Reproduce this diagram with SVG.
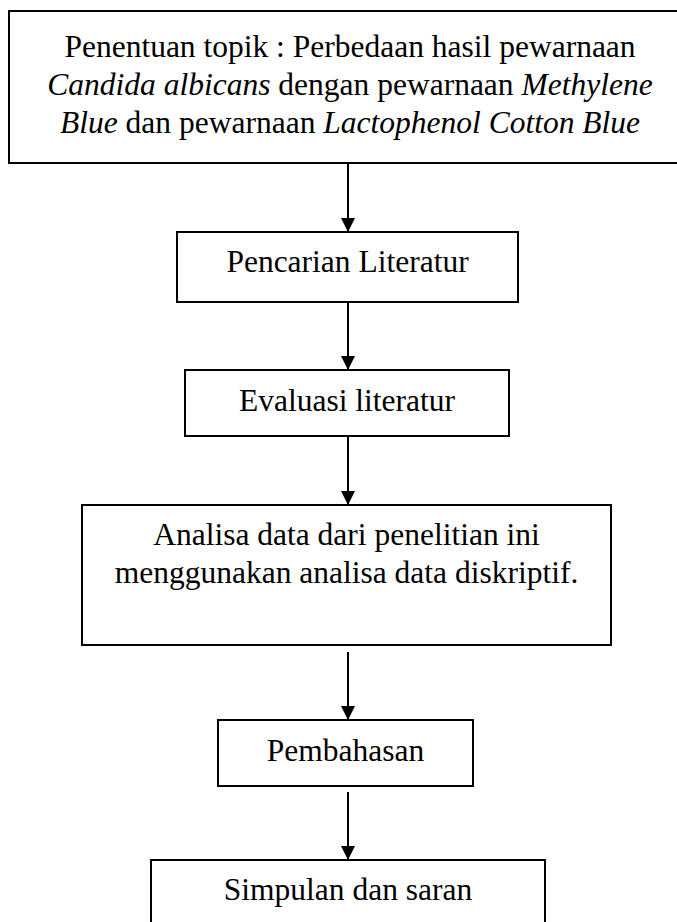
<svg xmlns="http://www.w3.org/2000/svg" width="677" height="922" viewBox="0 0 677 922">
<style>
.box{fill:#fff;stroke:#000;stroke-width:2}
.t{font-family:"Liberation Serif","Times New Roman",serif;font-size:31.5px;fill:#000;text-anchor:middle}
.i{font-style:italic}
.c{stroke:#000;stroke-width:2;fill:none}
</style>
<defs>
<marker id="ah" viewBox="0 0 14 14" refX="14" refY="7" markerWidth="14" markerHeight="14" markerUnits="userSpaceOnUse" orient="auto">
<path d="M0,0 L14,7 L0,14 Z" fill="#000"/>
</marker>
</defs>
<rect width="677" height="922" fill="#fff"/>
<g id="connectors">
<line class="c" x1="348" y1="163" x2="348" y2="232" marker-end="url(#ah)"/>
<line class="c" x1="348" y1="302" x2="348" y2="370" marker-end="url(#ah)"/>
<line class="c" x1="348" y1="436" x2="348" y2="505" marker-end="url(#ah)"/>
<line class="c" x1="348" y1="652" x2="348" y2="720" marker-end="url(#ah)"/>
<line class="c" x1="348" y1="792" x2="348" y2="860" marker-end="url(#ah)"/>
</g>
<g id="n1">
<rect class="box" x="9" y="11" width="680" height="152"/>
<text class="t" x="350" y="57">Penentuan topik : Perbedaan hasil pewarnaan</text>
<text class="t" x="350" y="95"><tspan class="i">Candida albicans</tspan> dengan pewarnaan <tspan class="i">Methylene</tspan></text>
<text class="t" x="350" y="133"><tspan class="i">Blue</tspan> dan pewarnaan <tspan class="i">Lactophenol Cotton Blue</tspan></text>
</g>
<g id="n2">
<rect class="box" x="177" y="232" width="341" height="70"/>
<text class="t" x="347.5" y="272">Pencarian Literatur</text>
</g>
<g id="n3">
<rect class="box" x="185" y="370" width="324" height="66"/>
<text class="t" x="347" y="411">Evaluasi literatur</text>
</g>
<g id="n4">
<rect class="box" x="82" y="505" width="529" height="140"/>
<text class="t" x="346.5" y="545">Analisa data dari penelitian ini</text>
<text class="t" x="346.5" y="583">menggunakan analisa data diskriptif.</text>
</g>
<g id="n5">
<rect class="box" x="218" y="720" width="255" height="66"/>
<text class="t" x="345.5" y="761">Pembahasan</text>
</g>
<g id="n6">
<rect class="box" x="151" y="860" width="394" height="80"/>
<text class="t" x="348" y="900">Simpulan dan saran</text>
</g>
</svg>
